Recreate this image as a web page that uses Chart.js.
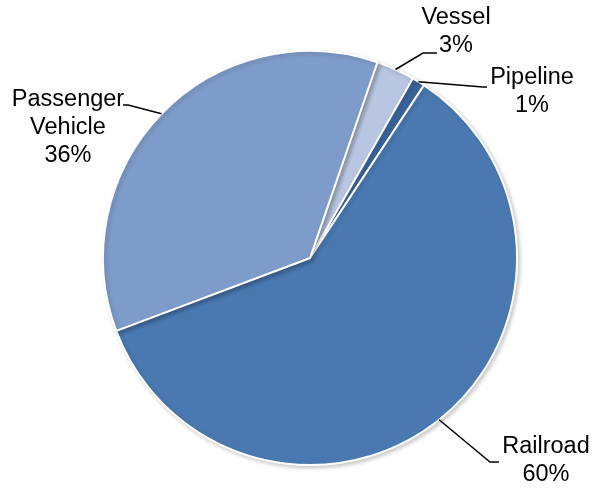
<!DOCTYPE html>
<html lang="en">
<head>
    <meta charset="UTF-8">
    <title>Transport Mode Share</title>
    <style>
        body {
            margin: 0;
            padding: 0;
            background: #fff;
        }

        #chart-box {
            width: 597px;
            height: 489px;
        }
    </style>
    <script src="https://cdn.jsdelivr.net/npm/chart.js"></script>
</head>
<body>
    <div id="chart-box">
        <canvas id="modeChart" width="597" height="489"></canvas>
    </div>
    <script>
        // slices, clockwise from the Vessel wedge
        var modes = ['Vessel', 'Pipeline', 'Railroad', 'Passenger Vehicle'];
        var shares = [3, 1, 60, 36];
        var sliceColors = ['#b8c6e1', '#3b639b', '#4a79b1', '#7e9cc9'];

        // label text lines and leader line routing for each slice
        var labelLines = [
            ['Vessel', '3%'],
            ['Pipeline', '1%'],
            ['Railroad', '60%'],
            ['Passenger', 'Vehicle', '36%']
        ];
        var labelLayout = [
            { elbow: [423, 53], end: [437, 53], text: [456, 18] },
            { elbow: [483, 87], end: [487, 87], text: [532, 78] },
            { elbow: [490, 462], end: [499, 462], text: [546, 447] },
            { elbow: [128, 105], end: [123, 105], text: [68, 100] }
        ];

        var FONT = '23.5px "Liberation Sans", Arial, sans-serif';
        var LINE_GAP = 28;

        // soft shadow under the wedges
        var shadowPlugin = {
            id: 'sliceShadow',
            beforeDatasetDraw: function (chart) {
                var ctx = chart.ctx;
                ctx.save();
                ctx.shadowColor = 'rgba(0, 0, 0, 0.2)';
                ctx.shadowBlur = 4;
                ctx.shadowOffsetX = 2;
                ctx.shadowOffsetY = 2;
            },
            afterDatasetDraw: function (chart) {
                chart.ctx.restore();
            }
        };

        // data labels with leader lines from each wedge's outer edge
        var leaderLabels = {
            id: 'leaderLabels',
            afterDatasetsDraw: function (chart) {
                var ctx = chart.ctx;
                var arcs = chart.getDatasetMeta(0).data;
                ctx.save();
                ctx.strokeStyle = '#000';
                ctx.lineWidth = 1.5;
                ctx.fillStyle = '#000';
                ctx.font = FONT;
                ctx.textAlign = 'center';
                ctx.textBaseline = 'middle';
                arcs.forEach(function (arc, i) {
                    var p = arc.getProps(['x', 'y', 'startAngle', 'endAngle', 'outerRadius'], true);
                    var mid = (p.startAngle + p.endAngle) / 2;
                    var sx = p.x + Math.cos(mid) * p.outerRadius;
                    var sy = p.y + Math.sin(mid) * p.outerRadius;
                    var lay = labelLayout[i];
                    ctx.beginPath();
                    ctx.moveTo(sx, sy);
                    ctx.lineTo(lay.elbow[0], lay.elbow[1]);
                    ctx.lineTo(lay.end[0], lay.end[1]);
                    ctx.stroke();
                    labelLines[i].forEach(function (line, k) {
                        ctx.fillText(line, lay.text[0], lay.text[1] + k * LINE_GAP);
                    });
                });
                ctx.restore();
            }
        };

        new Chart(document.getElementById('modeChart').getContext('2d'), {
            type: 'pie',
            data: {
                labels: modes,
                datasets: [{
                    data: shares,
                    backgroundColor: sliceColors,
                    borderColor: '#ffffff',
                    borderWidth: 2
                }]
            },
            options: {
                responsive: false,
                animation: false,
                rotation: 19,
                layout: {
                    padding: { left: 102, right: 79, top: 50, bottom: 23 }
                },
                plugins: {
                    legend: { display: false },
                    tooltip: { enabled: false }
                }
            },
            plugins: [shadowPlugin, leaderLabels]
        });
    </script>
</body>
</html>
